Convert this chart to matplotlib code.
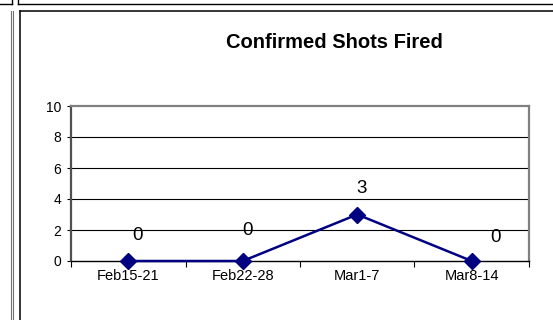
import matplotlib
matplotlib.use("Agg")
import matplotlib.pyplot as plt
from matplotlib.lines import Line2D
import numpy as np

plt.rcParams.update({
    "font.family": ["Liberation Sans", "DejaVu Sans"],
})

# --- data ---
weeks = ["Feb15-21", "Feb22-28", "Mar1-7", "Mar8-14"]
shots = [0, 0, 3, 0]
# label nudges in points (x, y)
label_offsets = [(7, 18), (3.5, 22), (3, 19), (17, 17)]
y_ticks = [0, 2, 4, 6, 8, 10]

NAVY = "#000080"
W, H = 553, 320

fig = plt.figure(figsize=(W / 100, H / 100), dpi=100)


def px_line(xs, ys, color="black", lw=1.0):
    fig.add_artist(Line2D([x / W for x in xs], [1 - y / H for y in ys],
                          color=color, linewidth=lw, transform=fig.transFigure))


# page frame lines around the chart box
px_line([0, 11.5], [3.5, 3.5])
px_line([11.5, 11.5], [0, 3.5])
px_line([17.5, 17.5], [0, 3.5])
px_line([17.5, W], [3.5, 3.5])
px_line([11, 11], [10.5, H], color="#707070", lw=0.8)
px_line([12.5, 12.5], [10.5, H], color="#707070", lw=0.8)
px_line([19.5, W], [10.5, 10.5], lw=1.1)
px_line([19.5, 19.5], [10.5, H], lw=1.1)

# plot area
left, right, top, bottom = 71, 529, 106, 261
ax = fig.add_axes([left / W, 1 - bottom / H, (right - left) / W, (bottom - top) / H])

x = np.arange(len(weeks))
ax.plot(x, shots, color=NAVY, linewidth=1.8, marker="D", markersize=8.5,
        markerfacecolor=NAVY, markeredgecolor=NAVY, zorder=4, clip_on=False)

for xi, v, (dx, dy) in zip(x, shots, label_offsets):
    ax.annotate(str(v), (xi, v), xytext=(dx, dy), textcoords="offset points",
                ha="center", va="center", fontsize=13.5, color="black")

ax.set_xlim(-0.5, len(weeks) - 0.5)
ax.set_ylim(0, 10)
ax.set_yticks(y_ticks)
ax.set_yticklabels([str(t) for t in y_ticks], fontsize=10)
ax.set_xticks(x)
ax.set_xticklabels(weeks, fontsize=10.5)
ax.set_xticks(np.arange(-0.5, len(weeks)), minor=True)
ax.tick_params(axis="x", which="major", length=0, pad=6)
ax.tick_params(axis="x", which="minor", length=4, width=0.8, direction="out")
ax.tick_params(axis="y", length=3, width=0.8, direction="out", pad=4)

for g in y_ticks[1:-1]:
    ax.axhline(g, color="black", linewidth=0.8, zorder=1)

ax.spines["top"].set_color("#808080")
ax.spines["top"].set_linewidth(1.6)
ax.spines["right"].set_color("#808080")
ax.spines["right"].set_linewidth(1.6)
ax.spines["left"].set_color("#505050")
ax.spines["left"].set_linewidth(1.6)
ax.spines["bottom"].set_color("black")
ax.spines["bottom"].set_linewidth(1.0)

fig.text(334 / W, 1 - 43 / H, "Confirmed Shots Fired", ha="center", va="center",
         fontsize=14.5, fontweight="bold")

fig.savefig("out.png", dpi=100)
